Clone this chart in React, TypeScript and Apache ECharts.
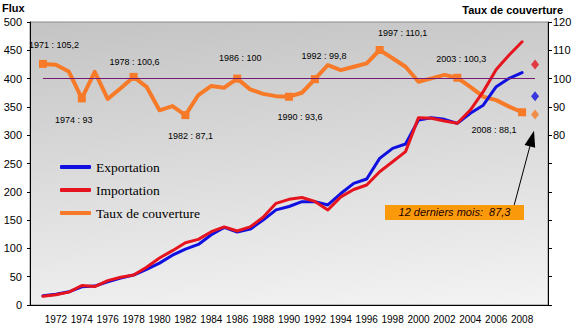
import React, { useEffect, useRef } from 'react';
import * as echarts from 'echarts';

// ---- Data ----
const years = [
  1971, 1972, 1973, 1974, 1975, 1976, 1977, 1978, 1979, 1980,
  1981, 1982, 1983, 1984, 1985, 1986, 1987, 1988, 1989, 1990,
  1991, 1992, 1993, 1994, 1995, 1996, 1997, 1998, 1999, 2000,
  2001, 2002, 2003, 2004, 2005, 2006, 2007, 2008,
];
const exportation = [
  16.3, 19, 23.3, 32.1, 33.4, 41, 47.5, 53, 63, 74,
  88, 98.7, 107, 124, 137, 129, 134, 150, 168, 174,
  182.6, 182.6, 176.7, 197, 215, 222.6, 259, 276.8, 284.5, 327,
  331, 328, 321, 338.7, 353, 385.7, 400.5, 410.5,
];
const importation = [
  15.5, 18.1, 22.7, 34.5, 32.6, 43, 48.9, 53, 66.6, 83,
  96, 110, 116, 129.5, 138, 130.7, 138, 155, 179.6, 186.7,
  190, 183, 167.8, 191, 204, 212, 235.5, 253, 271, 331,
  330, 325, 321, 344.5, 377, 416, 441.7, 465,
];
const tauxCouverture = [
  105.2, 104.9, 102.5, 93, 102.4, 92.8, 96.6, 100.6, 97.1, 88.8,
  90.3, 87.1, 94.2, 97.4, 96.8, 100, 96.2, 94.6, 93.8, 93.6,
  95, 99.8, 104.8, 103, 104.2, 105.4, 110.1, 107.2, 104.2, 98.9,
  100.1, 101.3, 100.3, 97.1, 93.6, 92.4, 90.1, 88.1,
];
const annotatedYears = [1971, 1974, 1978, 1982, 1986, 1990, 1992, 1997, 2003, 2008];

// last 12 months
const year12m = 2009;
const export12m = 369;
const import12m = 425;
const taux12m = 87.3;
const box12mText = '12 derniers mois:  87,3';

const equilibre = 100;

// ---- Layout / style config (not data) ----
const labelOffsets: Record<number, [number, number]> = {
  1971: [11, -19],
  1974: [-8, 22],
  1978: [1, -15],
  1982: [5, 21],
  1986: [3, -21],
  1990: [11, 20],
  1992: [9, -23],
  1997: [23, -17],
  2003: [4, -19],
  2008: [-28, 18],
};

const SANS = "'Liberation Sans', Arial, sans-serif";
const SERIF = "'Liberation Serif', 'Times New Roman', serif";
const BLUE = '#1010e0';
const RED = '#e6141e';
const ORANGE = '#f77a28';

const fmt = (v: number) => String(v).replace('.', ',');

export default function App() {
  const ref = useRef<HTMLDivElement>(null);

  useEffect(() => {
    const chart = echarts.init(ref.current!, null, { renderer: 'svg' });

    const tauxData = years.map((y, i) => {
      if (annotatedYears.includes(y)) {
        return {
          value: [y, tauxCouverture[i]],
          symbol: 'rect',
          symbolSize: 8,
          label: {
            show: true,
            position: 'inside',
            offset: labelOffsets[y],
            formatter: `${y} : ${fmt(tauxCouverture[i])}`,
            color: '#000',
            fontSize: 9,
            fontFamily: SANS,
          },
        };
      }
      return { value: [y, tauxCouverture[i]], symbol: 'none' };
    });

    const option: any = {
      animation: false,
      backgroundColor: '#ffffff',
      grid: {
        left: 30,
        top: 22,
        right: 34,
        bottom: 23,
        show: true,
        borderColor: '#8a8a8a',
        borderWidth: 1,
        backgroundColor: new echarts.graphic.LinearGradient(0, 0, 0.2, 1.39, [
          { offset: 0, color: '#c4c4c4' },
          { offset: 1, color: '#ffffff' },
        ]),
      },
      legend: {
        data: ['Exportation', 'Importation', 'Taux de couverture'],
        orient: 'vertical',
        left: 60,
        top: 159,
        padding: 0,
        itemGap: 7,
        itemWidth: 31,
        itemHeight: 4,
        icon: 'roundRect',
        textStyle: {
          fontFamily: SERIF,
          fontSize: 13.5,
          color: '#000',
          lineHeight: 16,
        },
      },
      graphic: [
        {
          type: 'text',
          left: 2,
          top: 2,
          style: { text: 'Flux', font: `bold 11px ${SANS}`, fill: '#000' },
        },
        {
          type: 'text',
          right: 19,
          top: 4,
          style: { text: 'Taux de couverture', font: `bold 11px ${SANS}`, fill: '#000' },
        },
      ],
      xAxis: {
        type: 'value',
        min: 1970,
        max: 2010,
        interval: 2,
        axisLine: { show: true, lineStyle: { color: '#000', width: 1 } },
        axisTick: { show: false },
        splitLine: { show: false },
        axisLabel: {
          margin: 9,
          fontSize: 10,
          fontFamily: SANS,
          color: '#000',
          formatter: (v: number) => (v <= 1970 || v >= 2010 ? '' : String(v)),
        },
      },
      yAxis: [
        {
          type: 'value',
          min: 0,
          max: 500,
          interval: 50,
          position: 'left',
          axisLine: { show: true, lineStyle: { color: '#000', width: 1 } },
          axisTick: { show: true, length: 3, lineStyle: { color: '#000' } },
          splitLine: { show: false },
          axisLabel: { margin: 8, fontSize: 11, fontFamily: SANS, color: '#000' },
        },
        {
          type: 'value',
          min: 20,
          max: 120,
          interval: 10,
          position: 'right',
          axisLine: { show: true, lineStyle: { color: '#000', width: 1 } },
          axisTick: { show: true, length: 4, lineStyle: { color: '#000' } },
          splitLine: { show: false },
          axisLabel: {
            margin: 5,
            fontSize: 11,
            fontFamily: SANS,
            color: '#000',
            formatter: (v: number) => (v >= 80 ? String(v) : ''),
          },
        },
      ],
      series: [
        {
          name: 'Taux de couverture',
          type: 'line',
          yAxisIndex: 1,
          data: tauxData,
          color: ORANGE,
          lineStyle: { color: ORANGE, width: 4, cap: 'round', join: 'round' },
          itemStyle: { color: ORANGE },
          markLine: {
            silent: true,
            symbol: ['none', 'none'],
            label: { show: false },
            data: [
              [
                { coord: [years[0], equilibre], lineStyle: { color: '#751a75', width: 1, type: 'solid' } },
                { coord: [year12m, equilibre] },
              ],
              [
                {
                  coord: [2007.37, 55],
                  symbol: 'none',
                  lineStyle: { color: '#000', width: 1, type: 'solid' },
                },
                { coord: [2008.76, 78.8], symbol: 'triangle', symbolSize: [11, 16] },
              ],
            ],
          },
          markPoint: {
            silent: true,
            data: [
              {
                coord: [2002.78, 52.7],
                symbol: 'rect',
                symbolSize: [139, 15],
                itemStyle: { color: '#fa9a0a' },
                label: {
                  show: true,
                  position: 'inside',
                  formatter: box12mText,
                  fontStyle: 'italic',
                  fontSize: 11,
                  fontFamily: SANS,
                  color: '#220000',
                },
              },
            ],
          },
        },
        {
          name: 'Exportation',
          type: 'line',
          yAxisIndex: 0,
          data: years.map((y, i) => [y, exportation[i]]),
          symbol: 'none',
          color: BLUE,
          lineStyle: { color: BLUE, width: 3, cap: 'round', join: 'round' },
        },
        {
          name: 'Importation',
          type: 'line',
          yAxisIndex: 0,
          data: years.map((y, i) => [y, importation[i]]),
          symbol: 'none',
          color: RED,
          lineStyle: { color: RED, width: 3, cap: 'round', join: 'round' },
        },
        {
          name: 'Importation 12 mois',
          type: 'scatter',
          yAxisIndex: 0,
          symbol: 'diamond',
          symbolSize: [8, 10],
          itemStyle: { color: RED },
          data: [[year12m, import12m]],
        },
        {
          name: 'Exportation 12 mois',
          type: 'scatter',
          yAxisIndex: 0,
          symbol: 'diamond',
          symbolSize: [8, 10],
          itemStyle: { color: BLUE },
          data: [[year12m, export12m]],
        },
        {
          name: 'Taux 12 mois',
          type: 'scatter',
          yAxisIndex: 1,
          symbol: 'diamond',
          symbolSize: [8, 10],
          itemStyle: { color: ORANGE },
          data: [[year12m, taux12m]],
        },
      ],
    };

    chart.setOption(option);
    return () => chart.dispose();
  }, []);

  return (
    <div
      ref={ref}
      style={{ position: 'fixed', left: 0, top: 0, width: 582, height: 328 }}
    />
  );
}
